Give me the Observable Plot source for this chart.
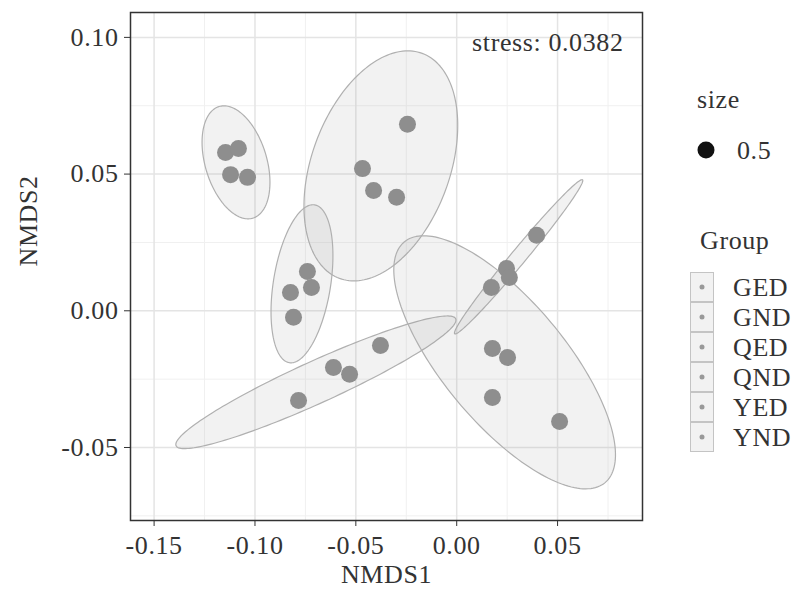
<!DOCTYPE html>
<html><head><meta charset="utf-8">
<script src="https://cdn.jsdelivr.net/npm/d3@7"></script>
<script src="https://cdn.jsdelivr.net/npm/@observablehq/plot@0.6"></script>
<style>
body{margin:0;background:#fff}
#chart{width:791px;height:594px}
</style>
</head><body><div id="chart"></div>
<script>
// ---- data ----
const groups = ["GED", "GND", "QED", "QND", "YED", "YND"];
const sampleGroup = [
  "GED","GED","GED","GED",
  "GND","GND","GND","GND",
  "QED","QED","QED","QED",
  "QND","QND","QND","QND",
  "YED","YED","YED","YED",
  "YND","YND","YND","YND"];
const nmds1 = [
  -0.1146, -0.1082, -0.1121, -0.1037,
  -0.0244, -0.0467, -0.0412, -0.0298,
  -0.0740, -0.0720, -0.0824, -0.0809,
  -0.0378, -0.0611, -0.0531, -0.0784,
   0.0396,  0.0247,  0.0261,  0.0172,
   0.0177,  0.0252,  0.0177,  0.0510];
const nmds2 = [
   0.0579,  0.0594,  0.0498,  0.0488,
   0.0682,  0.0520,  0.0440,  0.0415,
   0.0144,  0.0085,  0.0067, -0.0024,
  -0.0127, -0.0207, -0.0232, -0.0328,
   0.0276,  0.0155,  0.0122,  0.0085,
  -0.0138, -0.0171, -0.0317, -0.0405];

// 95% ellipses per group: centre and two conjugate semi-diameters (data units)
const ellipseCx = [-0.1094, -0.0376, -0.0767, -0.0698, 0.0307, 0.02376];
const ellipseCy = [ 0.0543,  0.0530,  0.00988, -0.02615, 0.01975, -0.01884];
const ellipseAx = [ 0.00837, -0.0205, -0.00626, 0.0693, 0.03168, 0.0498];
const ellipseAy = [-0.02041, -0.04115, -0.02886, 0.02323, 0.02816, -0.0440];
const ellipseBx = [ 0.01460, 0.03213, 0.01401, 0.00431, 0.00287, 0.02322];
const ellipseBy = [ 0.00326, -0.00874, -0.00166, -0.00699, -0.00176, 0.01437];

const xTicks = [-0.15, -0.10, -0.05, 0.00, 0.05];
const xMinor = [-0.125, -0.075, -0.025, 0.025, 0.075];
const yTicks = [-0.05, 0.00, 0.05, 0.10];
const yMinor = [-0.075, -0.025, 0.025, 0.075];
const xDomain = [-0.1617, 0.0921];
const yDomain = [-0.0767, 0.1091];

const stress = 0.0382;
const sizeValue = 0.5;
const xLabel = "NMDS1", yLabel = "NMDS2";

// ---- build ----
const points = nmds1.map((x, i) => ({x, y: nmds2[i], group: sampleGroup[i]}));
const ellipsePts = groups.flatMap((g, i) => d3.range(0, 360, 2).map(deg => {
  const t = deg * Math.PI / 180;
  return {
    group: g,
    x: ellipseCx[i] + ellipseAx[i] * Math.cos(t) + ellipseBx[i] * Math.sin(t),
    y: ellipseCy[i] + ellipseAy[i] * Math.cos(t) + ellipseBy[i] * Math.sin(t)
  };
}));

const FONT = "Liberation Serif, Times New Roman, serif";
const TXT = "#333";
const FS = 26;

const plot = Plot.plot({
  width: 791, height: 594,
  marginLeft: 130, marginRight: 149, marginTop: 12, marginBottom: 74,
  style: {fontFamily: FONT, fontSize: FS + "px", color: TXT, background: "#fff", letterSpacing: "0.6px"},
  x: {domain: xDomain},
  y: {domain: yDomain},
  marks: [
    Plot.ruleX(xMinor, {stroke: "#f0f0f0", strokeWidth: 1}),
    Plot.ruleY(yMinor, {stroke: "#f0f0f0", strokeWidth: 1}),
    Plot.ruleX(xTicks, {stroke: "#e4e4e4", strokeWidth: 1.5}),
    Plot.ruleY(yTicks, {stroke: "#e4e4e4", strokeWidth: 1.5}),
    Plot.line(ellipsePts, {x: "x", y: "y", z: "group", curve: "linear-closed",
      fill: "#999", fillOpacity: 0.13, stroke: "#b0b0b0", strokeWidth: 1.2}),
    Plot.dot(points, {x: "x", y: "y", r: 8.5, fill: "#8e8e8e"}),
    Plot.frame({stroke: "#333", strokeWidth: 1.5}),
    Plot.axisX(xTicks, {tickFormat: d => d.toFixed(2), tickSize: 6, tickPadding: 9,
      fontSize: FS, fill: TXT, stroke: "#333", label: null}),
    Plot.axisY(yTicks, {tickFormat: d => d.toFixed(2), tickSize: 6, tickPadding: 6,
      fontSize: FS, fill: TXT, stroke: "#333", label: null}),
    Plot.text([`stress: ${stress}`], {frameAnchor: "top-right", dx: -19, dy: 20,
      textAnchor: "end", fontSize: FS, fill: TXT}),
    Plot.text([xLabel], {frameAnchor: "bottom", dy: 62, fontSize: FS, fill: TXT}),
    Plot.text([yLabel], {frameAnchor: "left", dx: -102, rotate: -90, fontSize: FS, fill: TXT})
  ]
});

// ---- legend (drawn into the plot's svg) ----
const svg = d3.select(plot);
const lg = svg.append("g").attr("font-family", FONT).attr("font-size", FS)
  .attr("fill", TXT).attr("text-anchor", "start").style("letter-spacing", "0.6px");
lg.append("text").attr("x", 697).attr("y", 100).attr("dy", "0.3em").text("size");
lg.append("circle").attr("cx", 706).attr("cy", 150).attr("r", 8.5).attr("fill", "#111");
lg.append("text").attr("x", 737).attr("y", 150).attr("dy", "0.35em").text(sizeValue);
lg.append("text").attr("x", 700).attr("y", 240).attr("dy", "0.35em").text("Group");
const keyH = 30, keyTop = 272;
groups.forEach((g, i) => {
  const y0 = keyTop + i * keyH;
  lg.append("rect").attr("x", 690.5).attr("y", y0 + 0.5).attr("width", 23).attr("height", keyH - 1)
    .attr("fill", "#f2f2f2").attr("stroke", "#c4c4c4").attr("stroke-width", 1);
  lg.append("circle").attr("cx", 702).attr("cy", y0 + keyH / 2).attr("r", 2.5).attr("fill", "#999");
  lg.append("text").attr("x", 733).attr("y", y0 + keyH / 2).attr("dy", "0.35em").text(g);
});

document.getElementById("chart").appendChild(plot);
</script>
</body></html>
